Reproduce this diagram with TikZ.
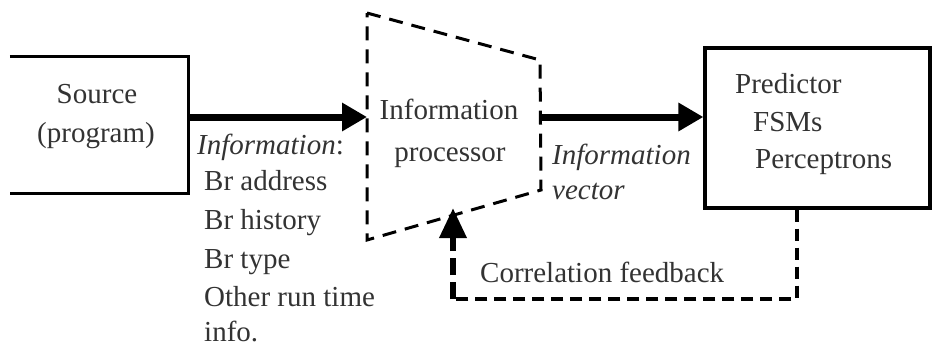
\documentclass[tikz,border=0pt]{standalone}
\usepackage{fontspec}
\setmainfont{Liberation Serif}
\usetikzlibrary{arrows.meta}
\begin{document}
\begin{tikzpicture}[x=1pt,y=-1pt,
  txt/.style={text=black!80, font=\fontsize{29}{34}\selectfont, inner sep=0pt},
  boxline/.style={line width=3.2pt},
  trapline/.style={line width=3pt, dash pattern=on 14pt off 9pt},
  fbline/.style={line width=3.3pt, dash pattern=on 12pt off 7pt},
  fbthick/.style={line width=6.5pt, dash pattern=on 17pt off 7pt, -{Triangle[length=30pt,width=26pt]}},
  bigarrow/.style={line width=7pt, -{Triangle[length=25pt,width=27pt]}}
]
\useasboundingbox (0,0) rectangle (932,349);
\fill[white] (0,0) rectangle (932,349);

% Source box (left side open)
\node[minimum width=178pt, minimum height=136pt, inner sep=0pt] (src) at (99,125) {};
\draw[boxline] (src.north west) -- (src.north east) -- (src.south east) -- (src.south west);
\node[txt, anchor=base] (srcA) at (97,103) {Source};
\node[txt, anchor=base] (srcB) at (96,142) {(program)};

% Information processor (dashed trapezoid)
\coordinate (tl) at (367,13);
\coordinate (tr) at (540,60);
\coordinate (br) at (541,190);
\coordinate (bl) at (367,240);
\draw[trapline] (tl) -- (tr) -- (br) -- (bl) -- cycle;
\coordinate (pin) at (367,117);
\coordinate (pout) at (540,117);
\node[txt, anchor=base] (procA) at (449,119) {Information};
\node[txt, anchor=base] (procB) at (450,161) {processor};

% Predictor box
\node[draw, boxline, minimum width=225pt, minimum height=160pt, inner sep=0pt] (pred) at (817.5,128) {};
\node[txt, anchor=base west] (predA) at (735,93) {Predictor};
\node[txt, anchor=base west] (predB) at (753,131) {FSMs};
\node[txt, anchor=base west] (predC) at (755,168) {Perceptrons};

% main arrows
\draw[bigarrow] (src.east |- pin) -- (pin);
\draw[bigarrow] (pout) -- (pred.west |- pout);

% information list
\node[txt, anchor=base west] (inf) at (197,154) {\textit{Information}:};
\node[txt, anchor=base west] (brA) at (204,190) {Br address};
\node[txt, anchor=base west] (brH) at (204,229) {Br history};
\node[txt, anchor=base west] (brT) at (204,268) {Br type};
\node[txt, anchor=base west] (oth) at (204,306) {Other run time};
\node[txt, anchor=base west] (inf2) at (204,341) {info.};

% information vector
\node[txt, anchor=base west] (ivA) at (552,164) {\textit{Information}};
\node[txt, anchor=base west] (ivB) at (552,199) {\textit{vector}};

% correlation feedback
\coordinate (fbx) at (797,0);
\coordinate (fbc) at (453,299);
\coordinate (fbtip) at (453,208);
\draw[fbline] (pred.south -| fbx) |- (fbc);
\draw[fbthick] (fbc) -- (fbtip);
\node[txt, anchor=base west] (corr) at (480,282) {Correlation feedback};
\end{tikzpicture}
\end{document}
